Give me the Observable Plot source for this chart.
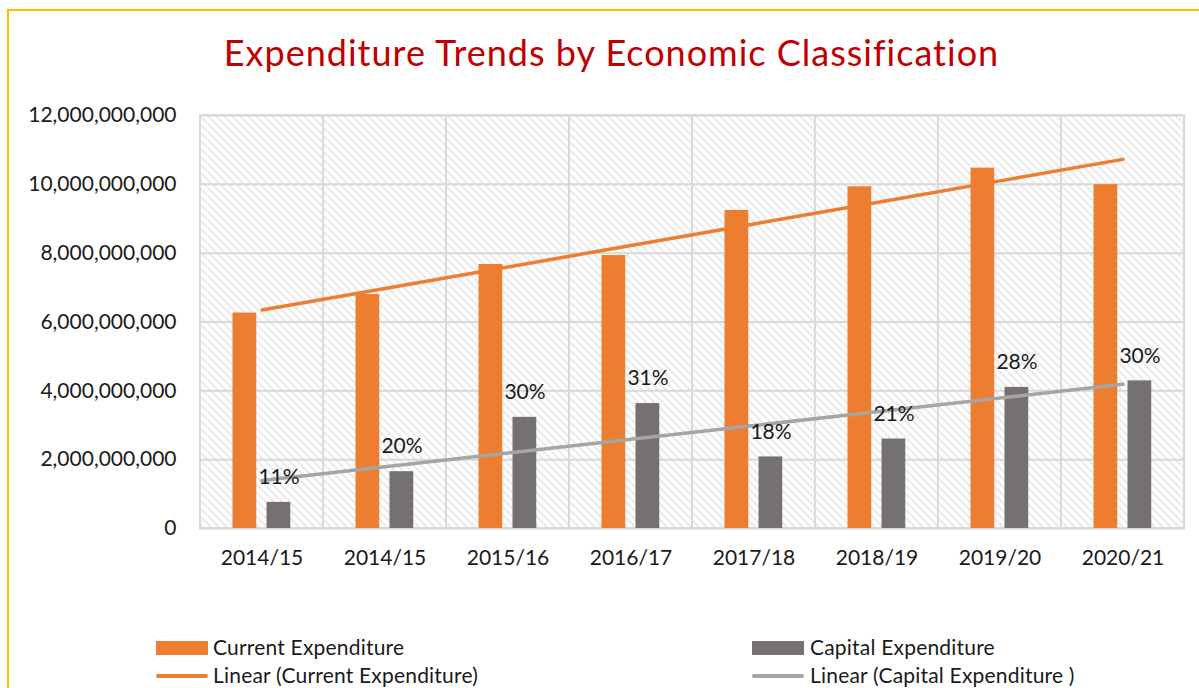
<!DOCTYPE html>
<html>
<head>
<meta charset="utf-8">
<script src="https://cdn.jsdelivr.net/npm/d3@7"></script>
<script src="https://cdn.jsdelivr.net/npm/@observablehq/plot@0.6"></script>
<style>
  body { margin: 0; background: #fff; font-family: Lato, "Open Sans", sans-serif; }
  #wrap { position: relative; width: 1199px; height: 688px; overflow: hidden; background: #fff; }
  #border { position: absolute; left: 7px; top: 9px; width: 1300px; height: 900px; border: 2px solid #FFC000; box-sizing: border-box; }
  #title { position: absolute; left: 12px; top: 34px; width: 1199px; text-align: center; font-size: 36px; line-height: 36px; letter-spacing: 1px; color: #C00000; font-family: Lato, sans-serif; white-space: nowrap; }
  #chart { position: absolute; left: 0; top: 100px; }
  .sw { position: absolute; }
  .lt { position: absolute; font-size: 21px; line-height: 20px; letter-spacing: 0.2px; color: #1a1a1a; white-space: nowrap; }
</style>
</head>
<body>
<div id="wrap">
  <div id="border"></div>
  <div id="title"></div>
  <div id="chart"></div>
  <div id="legend"></div>
</div>
<script>
const titleText = "Expenditure Trends by Economic Classification";
const categories = ["2014/15", "2014/15", "2015/16", "2016/17", "2017/18", "2018/19", "2019/20", "2020/21"];
const currentExpenditure = [6.26e9, 6.80e9, 7.67e9, 7.93e9, 9.24e9, 9.93e9, 10.47e9, 9.99e9];
const capitalExpenditure = [0.76e9, 1.65e9, 3.23e9, 3.63e9, 2.08e9, 2.60e9, 4.10e9, 4.29e9];
const capitalShareLabels = ["11%", "20%", "30%", "31%", "18%", "21%", "28%", "30%"];
const yTicks = [0, 2e9, 4e9, 6e9, 8e9, 10e9, 12e9];
const yDomain = [0, 12e9];
const legendLabels = ["Current Expenditure", "Capital Expenditure", "Linear (Current Expenditure)", "Linear (Capital Expenditure )"];

const colCurrent = "#ED7D31", colCapital = "#767171", colCapitalTrend = "#A5A5A5", gridCol = "#d9d9d9";

document.getElementById("title").textContent = titleText;

// linear trendlines (Excel style, x = 1..n)
function linearTrend(vals) {
  const xs = vals.map((_, i) => i + 1);
  const mx = d3.mean(xs), my = d3.mean(vals);
  const b = d3.sum(xs.map((x, k) => (x - mx) * (vals[k] - my))) / d3.sum(xs.map(x => (x - mx) ** 2));
  const a = my - b * mx;
  return xs.map(x => a + b * x);
}
const currentTrend = linearTrend(currentExpenditure);
const capitalTrend = linearTrend(capitalExpenditure);

const idx = categories.map((_, i) => i);
const rows = idx.map(i => ({
  i, current: currentExpenditure[i], capital: capitalExpenditure[i], share: capitalShareLabels[i],
  currentTrend: currentTrend[i], capitalTrend: capitalTrend[i]
}));

const chart = Plot.plot({
  width: 1199,
  height: 480,
  marginTop: 15,
  marginBottom: 52,
  marginLeft: 199,
  marginRight: 14,
  style: { fontFamily: "Lato, sans-serif", fontSize: "21px", color: "#1a1a1a", background: "transparent", overflow: "visible" },
  x: { type: "band", domain: idx, padding: 0, tickFormat: i => categories[i], tickSize: 0, tickPadding: 22, label: null },
  y: { domain: yDomain, ticks: yTicks, tickFormat: d3.format(","), tickSize: 0, tickPadding: 23, label: null },
  marks: [
    Plot.frame({ fill: "#fff", stroke: "none" }),
    Plot.gridY(yTicks, { stroke: gridCol, strokeOpacity: 1, strokeWidth: 2 }),
    Plot.barY(idx, { x: d => d, y1: () => yDomain[0], y2: () => yDomain[1], fill: "none", stroke: gridCol, strokeWidth: 2 }),
    Plot.barY(rows, { x: "i", y: "current", fill: colCurrent, insetLeft: 32.5, insetRight: 66.75 }),
    Plot.barY(rows, { x: "i", y: "capital", fill: colCapital, insetLeft: 66.5, insetRight: 32.75 }),
    Plot.line(rows, { x: "i", y: "currentTrend", stroke: colCurrent, strokeWidth: 3.5 }),
    Plot.line(rows, { x: "i", y: "capitalTrend", stroke: colCapitalTrend, strokeWidth: 3.5 }),
    Plot.text(rows, { x: "i", y: "capital", text: "share", dx: 17, dy: -25, lineAnchor: "middle", fontSize: 21, fill: "#1a1a1a" })
  ]
});

// hatch pattern for the plot background
const ns = "http://www.w3.org/2000/svg";
const defs = document.createElementNS(ns, "defs");
defs.innerHTML = '<pattern id="hatch" width="8" height="8" patternUnits="userSpaceOnUse">' +
  '<rect width="8" height="8" fill="#ffffff"/>' +
  '<path d="M0,0 L8,8 M-4,4 L4,12 M4,-4 L12,4" stroke="#cccccc" stroke-width="1.3" stroke-dasharray="2 1.2"/>' +
  '</pattern>';
chart.insertBefore(defs, chart.firstChild);
const frameRect = chart.querySelector('[aria-label="frame"] rect') || chart.querySelector('rect[aria-label="frame"]');
if (frameRect) frameRect.setAttribute("fill", "url(#hatch)");

document.getElementById("chart").appendChild(chart);

// legend
const legend = document.getElementById("legend");
const items = [
  { kind: "box", color: colCurrent, x: 156, y: 648, text: legendLabels[0], tx: 213 },
  { kind: "box", color: colCapital, x: 752, y: 648, text: legendLabels[1], tx: 810 },
  { kind: "line", color: colCurrent, x: 156, y: 676, text: legendLabels[2], tx: 213 },
  { kind: "line", color: colCapitalTrend, x: 752, y: 676, text: legendLabels[3], tx: 810 }
];
for (const it of items) {
  const sw = document.createElement("div");
  sw.className = "sw";
  sw.style.background = it.color;
  sw.style.left = it.x + "px";
  sw.style.width = "52px";
  if (it.kind === "box") { sw.style.top = (it.y - 7) + "px"; sw.style.height = "14px"; }
  else { sw.style.top = (it.y - 2) + "px"; sw.style.height = "4px"; sw.style.borderRadius = "2px"; }
  legend.appendChild(sw);
  const t = document.createElement("div");
  t.className = "lt";
  t.style.left = it.tx + "px";
  t.style.top = (it.y - 11) + "px";
  t.textContent = it.text;
  legend.appendChild(t);
}
</script>
</body>
</html>
